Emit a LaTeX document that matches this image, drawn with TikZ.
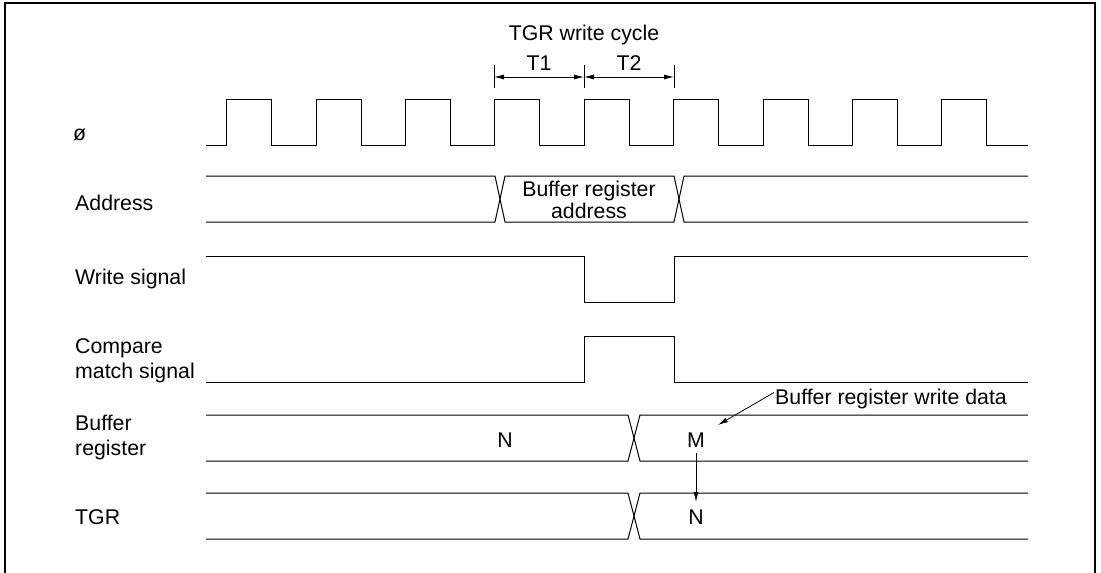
\documentclass[tikz,border=0pt]{standalone}
\usepackage{fontspec}
\setmainfont{Liberation Sans}
\usetikzlibrary{arrows.meta}
\begin{document}
\begin{tikzpicture}[x=1pt,y=-1pt,
  wave/.style={line width=1pt,line join=miter},
  lbl/.style={anchor=base west,inner sep=0pt,font=\fontsize{21.3}{24.3}\selectfont,align=left},
  txt/.style={anchor=base,inner sep=0pt,font=\fontsize{21.3}{22}\selectfont,align=center},
  dim/.style={line width=0.8pt,{Latex[length=10pt,width=5pt]}-{Latex[length=10pt,width=5pt]}},
  ptr/.style={line width=0.8pt,-{Latex[length=10pt,width=5pt]}}]
\useasboundingbox (0,0) rectangle (1101,573);
\draw[line width=1.3pt] (5,575) -- (5,3) -- (1095,3) -- (1095,575);

% labels
\node[lbl] (lphi) at (73,140.5) {ø};
\node[lbl] (laddr) at (75,210.5) {Address};
\node[lbl] (lwr) at (75,284.5) {Write signal};
\node[lbl] (lcmp) at (75,378) {Compare\\match signal};
\node[lbl] (lbuf) at (75,455) {Buffer\\register};
\node[lbl] (ltgr) at (75,524) {TGR};

% top dimension
\node[txt] (cyc) at (584,40) {TGR write cycle};
\coordinate (ta) at (494,77);
\coordinate (tb) at (584,77);
\coordinate (tc) at (674,77);
\foreach \x in {494,584,674} \draw[line width=0.8pt] (\x,65) -- (\x,88);
\draw[dim] (ta) -- (tb);
\draw[dim] (tb) -- (tc);
\node[txt] (t1) at (539,70) {T1};
\node[txt] (t2) at (629,70) {T2};

% clock
\draw[wave] (206,145)
  \foreach \k in {0,...,8} {
    -- ({226.7+89.4*\k},145) -- ({226.7+89.4*\k},99) -- ({271.7+89.4*\k},99) -- ({271.7+89.4*\k},145)
  } -- (1028,145);

% address bus
\draw[wave] (206,176) -- (495,176) -- (505,222) -- (674,222) -- (684,176) -- (1028,176);
\draw[wave] (206,222) -- (495,222) -- (505,176) -- (674,176) -- (684,222) -- (1028,222);
\node[txt] (baddr) at (589,218) {Buffer register\\address};

% write signal
\draw[wave] (206,256) -- (584,256) -- (584,302) -- (674,302) -- (674,256) -- (1028,256);

% compare match
\draw[wave] (206,382) -- (584,382) -- (584,336) -- (674,336) -- (674,382) -- (1028,382);

% buffer register
\draw[wave] (206,415) -- (628,415) -- (640,461) -- (1028,461);
\draw[wave] (206,461) -- (628,461) -- (640,415) -- (1028,415);
\node[txt] (bn) at (505,447.5) {N};
\node[txt] (bm) at (696,447.5) {M};

% TGR
\draw[wave] (206,493) -- (628,493) -- (640,539) -- (1028,539);
\draw[wave] (206,539) -- (628,539) -- (640,493) -- (1028,493);
\node[txt] (tn) at (696,524) {N};

% annotation
\node[lbl] (wd) at (775,404) {Buffer register write data};
\coordinate (wdp) at (718,425);
\draw[ptr] (wd.west) ++(-1,-6) -- (wdp);
\coordinate (mbot) at (696,453);
\coordinate (ntop) at (696,502);
\draw[ptr] (mbot) -- (ntop);
\end{tikzpicture}
\end{document}
